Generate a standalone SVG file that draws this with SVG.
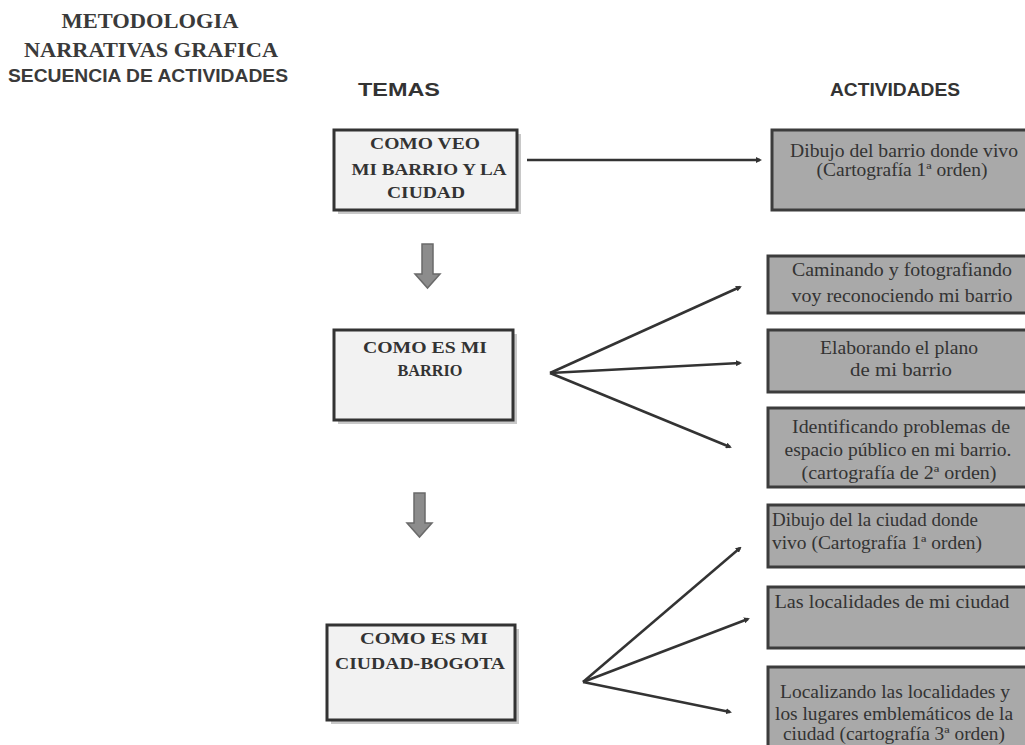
<svg xmlns="http://www.w3.org/2000/svg" width="1025" height="745" viewBox="0 0 1025 745">
<defs>
<style>
.title{font-family:"Liberation Serif","Times New Roman",serif;font-weight:bold;font-size:21px;fill:#3a3a3a;text-anchor:middle}
.sub{font-family:"Liberation Sans",Arial,sans-serif;font-weight:bold;font-size:19px;fill:#3a3a3a;text-anchor:middle}
.hdr{font-family:"Liberation Sans",Arial,sans-serif;font-weight:bold;font-size:19px;fill:#333;text-anchor:middle}
.tema{fill:#f2f2f2;stroke:#333;stroke-width:3}
.shadow{fill:#c8c8c8}
.tt{font-family:"Liberation Serif","Times New Roman",serif;font-weight:bold;font-size:17px;fill:#333;text-anchor:middle}
.act{fill:#a9a9a9;stroke:#3c3c3c;stroke-width:3}
.at{font-family:"Liberation Serif","Times New Roman",serif;font-size:18px;fill:#333;text-anchor:middle}
.conn{stroke:#333;stroke-width:2.5;fill:none}
.darrow{fill:#8c8c8c;stroke:#6a6a6a;stroke-width:1.5}
</style>
<marker id="ah" markerWidth="6" markerHeight="6" refX="4" refY="3" orient="auto" markerUnits="userSpaceOnUse">
<path d="M0,0 L6,3 L0,6 Z" fill="#333"/>
</marker>
</defs>
<rect width="1025" height="745" fill="#ffffff"/>

<g id="title">
<text class="title" x="150" y="28" textLength="177" lengthAdjust="spacingAndGlyphs">METODOLOGIA</text>
<text class="title" x="151" y="57" textLength="254" lengthAdjust="spacingAndGlyphs">NARRATIVAS GRAFICA</text>
<text class="sub" x="148" y="82" textLength="280" lengthAdjust="spacingAndGlyphs">SECUENCIA DE ACTIVIDADES</text>
</g>
<g id="hdr-temas"><text class="hdr" x="399" y="96" textLength="82" lengthAdjust="spacingAndGlyphs">TEMAS</text></g>
<g id="hdr-actividades"><text class="hdr" x="895" y="96" textLength="130" lengthAdjust="spacingAndGlyphs">ACTIVIDADES</text></g>

<g id="tema1">
<rect class="shadow" x="338" y="134" width="183" height="80"/>
<rect class="tema" x="334" y="130" width="183" height="80"/>
<text class="tt" x="425" y="149" textLength="110" lengthAdjust="spacingAndGlyphs">COMO VEO</text>
<text class="tt" x="429" y="175" textLength="155" lengthAdjust="spacingAndGlyphs">MI BARRIO Y LA</text>
<text class="tt" x="426" y="198" textLength="78" lengthAdjust="spacingAndGlyphs">CIUDAD</text>
</g>

<g id="tema2">
<rect class="shadow" x="338" y="334" width="179" height="90"/>
<rect class="tema" x="334" y="330" width="179" height="90"/>
<text class="tt" x="425" y="353" textLength="124" lengthAdjust="spacingAndGlyphs">COMO ES MI</text>
<text class="tt" x="430" y="376" textLength="65" lengthAdjust="spacingAndGlyphs">BARRIO</text>
</g>

<g id="tema3">
<rect class="shadow" x="331" y="629" width="188" height="95"/>
<rect class="tema" x="327" y="625" width="188" height="95"/>
<text class="tt" x="424" y="644" textLength="128" lengthAdjust="spacingAndGlyphs">COMO ES  MI</text>
<text class="tt" x="420" y="669" textLength="170" lengthAdjust="spacingAndGlyphs">CIUDAD-BOGOTA</text>
</g>

<g id="act1">
<rect class="act" x="772" y="130" width="260" height="80"/>
<text class="at" x="904" y="157" textLength="228" lengthAdjust="spacingAndGlyphs">Dibujo del barrio  donde vivo</text>
<text class="at" x="902" y="176" textLength="171" lengthAdjust="spacingAndGlyphs">(Cartografía 1ª orden)</text>
</g>
<g id="act2">
<rect class="act" x="768" y="256" width="264" height="57"/>
<text class="at" x="902" y="276" textLength="220" lengthAdjust="spacingAndGlyphs">Caminando y fotografiando</text>
<text class="at" x="902" y="302" textLength="221" lengthAdjust="spacingAndGlyphs">voy reconociendo mi  barrio</text>
</g>
<g id="act3">
<rect class="act" x="768" y="330" width="264" height="62"/>
<text class="at" x="899" y="354" textLength="158" lengthAdjust="spacingAndGlyphs">Elaborando el plano</text>
<text class="at" x="901" y="376" textLength="102" lengthAdjust="spacingAndGlyphs">de mi  barrio</text>
</g>
<g id="act4">
<rect class="act" x="768" y="408" width="264" height="79"/>
<text class="at" x="901" y="433" textLength="218" lengthAdjust="spacingAndGlyphs">Identificando  problemas de</text>
<text class="at" x="898" y="456" textLength="227" lengthAdjust="spacingAndGlyphs">espacio público en mi barrio.</text>
<text class="at" x="899" y="479" textLength="195" lengthAdjust="spacingAndGlyphs">(cartografía de 2ª orden)</text>
</g>
<g id="act5">
<rect class="act" x="768" y="505" width="264" height="62"/>
<text class="at" x="772" y="526" style="text-anchor:start" textLength="206" lengthAdjust="spacingAndGlyphs">Dibujo del  la ciudad donde</text>
<text class="at" x="772" y="549" style="text-anchor:start" textLength="210" lengthAdjust="spacingAndGlyphs">vivo (Cartografía 1ª orden)</text>
</g>
<g id="act6">
<rect class="act" x="768" y="587" width="264" height="61"/>
<text class="at" x="892" y="608" textLength="235" lengthAdjust="spacingAndGlyphs">Las localidades de mi ciudad</text>
</g>
<g id="act7">
<rect class="act" x="768" y="667" width="264" height="90"/>
<text class="at" x="895" y="698" textLength="230" lengthAdjust="spacingAndGlyphs">Localizando las localidades y</text>
<text class="at" x="894" y="720" textLength="238" lengthAdjust="spacingAndGlyphs">los lugares emblemáticos de la</text>
<text class="at" x="894" y="740" textLength="222" lengthAdjust="spacingAndGlyphs">ciudad (cartografía 3ª orden)</text>
</g>

<g id="connectors">
<line class="conn" x1="527" y1="160" x2="760" y2="160" marker-end="url(#ah)"/>
<line class="conn" x1="550" y1="373" x2="740" y2="287" marker-end="url(#ah)"/>
<line class="conn" x1="550" y1="373" x2="740" y2="363" marker-end="url(#ah)"/>
<line class="conn" x1="550" y1="373" x2="730" y2="447" marker-end="url(#ah)"/>
<line class="conn" x1="583" y1="682" x2="740" y2="548" marker-end="url(#ah)"/>
<line class="conn" x1="583" y1="682" x2="748" y2="619" marker-end="url(#ah)"/>
<line class="conn" x1="583" y1="682" x2="730" y2="712" marker-end="url(#ah)"/>
<path class="darrow" d="M422,244 L433,244 L433,274 L440,274 L427.5,288 L415,274 L422,274 Z"/>
<path class="darrow" d="M414,493 L425,493 L425,523 L432,523 L419.5,537 L407,523 L414,523 Z"/>
</g>
</svg>
